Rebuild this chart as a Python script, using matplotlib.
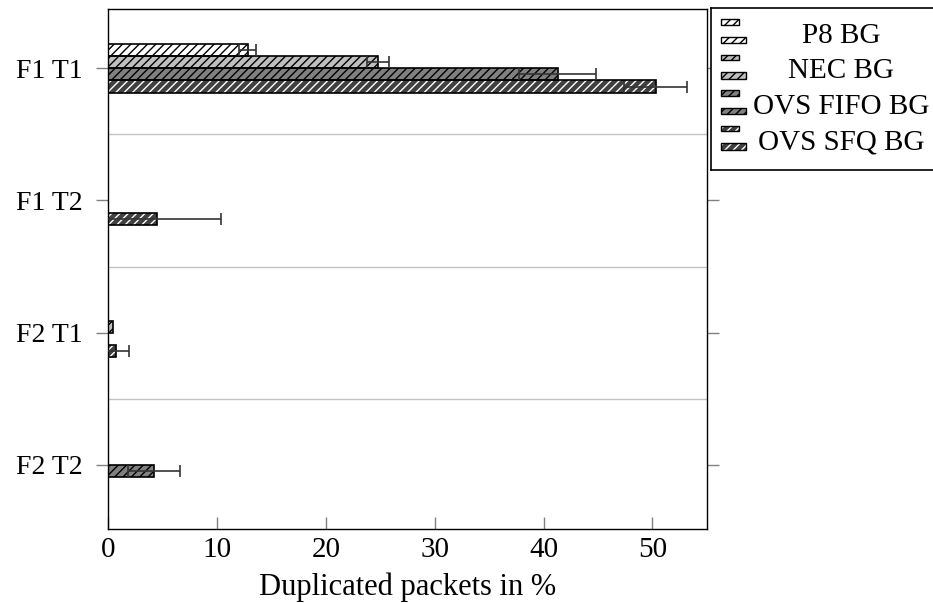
import numpy as np
import matplotlib
matplotlib.use('Agg')
import matplotlib.pyplot as plt
from matplotlib.patches import Rectangle

nan = np.nan

# Data
categories = ['F1 T1', 'F1 T2', 'F2 T1', 'F2 T2']
labels = ['P8 BG', 'NEC BG', 'OVS FIFO BG', 'OVS SFQ BG']

p8 = [12.8, nan, 0.0, nan]
p8_err = [0.78, nan, nan, nan]
nec = [24.8, nan, 0.45, nan]
nec_err = [1.0, nan, nan, nan]
fifo = [41.3, 0.0, 0.0, 4.2]
fifo_err = [3.55, nan, nan, 2.4]
sfq = [50.3, 4.5, 0.66, nan]
sfq_err = [2.9, 5.9, 1.2, nan]

# style: face colour, hatch colour
styles = [('white', 'black'), ('#bfbfbf', 'black'), ('#808080', 'black'), ('#404040', 'white')]

plt.rcParams['font.family'] = ['Liberation Serif', 'DejaVu Serif']
plt.rcParams['font.size'] = 21
plt.rcParams['hatch.linewidth'] = 1.0

fig = plt.figure(figsize=(9.33, 6.03), dpi=100)
ax = fig.add_axes([0.1161, 0.1231, 0.7575 - 0.1161, 0.9846 - 0.1231])

bar_h = 0.092
hatch = '////'
ypos = np.arange(len(categories))
series = [(p8, p8_err), (nec, nec_err), (fifo, fifo_err), (sfq, sfq_err)]

for i, ((vals, errs), (face, hc)) in enumerate(zip(series, styles)):
    off = (i - 1.5) * bar_h
    vals = np.array(vals, float)
    errs = np.array(errs, float)
    m = ~np.isnan(vals)
    y = ypos[m] + off
    # hatched fill, then the black outline on top
    ax.barh(y, vals[m], height=bar_h, color=face, edgecolor=hc, hatch=hatch, linewidth=0, zorder=2)
    ax.barh(y, vals[m], height=bar_h, fill=False, edgecolor='black', linewidth=1.2, zorder=3)
    e = m & ~np.isnan(errs)
    ax.errorbar(vals[e], ypos[e] + off, xerr=errs[e], fmt='none', ecolor='#333333',
                elinewidth=1.2, capsize=4.3, capthick=1.2, zorder=4)

ax.set_xlim(0, 55)
ax.set_ylim(3.483, -0.446)
ax.set_yticks(ypos, categories)
ax.set_xticks(range(0, 51, 10))
ax.set_yticks([0.5, 1.5, 2.5], minor=True)
ax.grid(axis='y', which='minor', color='#c4c4c4', linewidth=1)
ax.set_axisbelow(True)
ax.tick_params(which='minor', length=0)
ax.tick_params(axis='y', direction='out', length=8.5, width=1, color='#808080', pad=10,
               left=True, right=True, labelsize=20)
ax.tick_params(axis='x', direction='in', length=8.5, width=1, color='#808080', pad=6)
for s in ax.spines.values():
    s.set_linewidth(1)
ax.set_xlabel('Duplicated packets in %', labelpad=7, fontsize=22)

# legend box drawn by hand (two small bars per entry, centred text)
leg = fig.add_axes([711 / 933, 1 - 170 / 603, 224 / 933, (170 - 8.3) / 603])
leg.set_xlim(711, 935)
leg.set_ylim(170, 8.3)
leg.set_xticks([])
leg.set_yticks([])
for s in leg.spines.values():
    s.set_linewidth(1.2)
for i, (lab, (face, hc)) in enumerate(zip(labels, styles)):
    base = 43 + i * 35.5
    for (x0, y0, w, h) in [(720.7, base - 24, 18, 5.5), (720.7, base - 6.5, 25, 6.5)]:
        leg.add_patch(Rectangle((x0, y0), w, h, facecolor=face, edgecolor=hc, hatch=hatch, linewidth=0))
        leg.add_patch(Rectangle((x0, y0), w, h, fill=False, edgecolor='black', linewidth=1))
    leg.text(841, base, lab, ha='center', va='baseline')

fig.savefig('out.png', dpi=100)
